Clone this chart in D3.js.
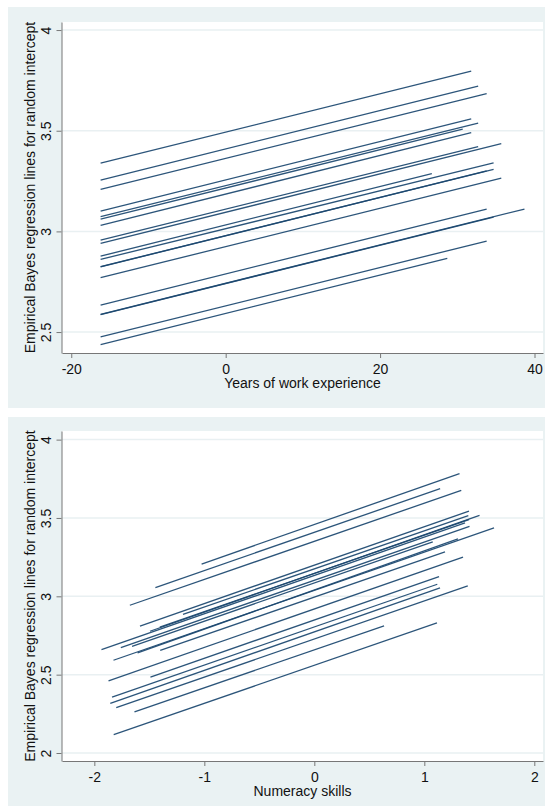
<!DOCTYPE html>
<html>
<head>
<meta charset="utf-8">
<script src="https://d3js.org/d3.v7.min.js"></script>
<style>
  body { margin: 0; background: #fff; }
  text { font-family: "Liberation Sans", Arial, sans-serif; fill: #111; }
</style>
</head>
<body>
<div id="chart"></div>
<script>
// ---- top panel: years of work experience ----
var expXTicks = [-20, 0, 20, 40];
var expYTicks = [2.5, 3, 3.5, 4];
var expStartX = [-16.2, -16.2, -16.2, -16.2, -16.2, -16.2, -16.2, -16.2, -16.2, -16.2,
                 -16.2, -16.2, -16.2, -16.2, -16.2, -16.2, -16.2, -16.2, -16.2];
var expEndX   = [31.8, 32.7, 33.8, 31.8, 32.7, 30.7, 31.8, 35.7, 32.7, 34.7,
                 34.7, 33.8, 26.7, 35.7, 33.8, 38.7, 34.7, 33.8, 28.7];
var expStartY = [3.339, 3.255, 3.209, 3.101, 3.073, 3.061, 3.030, 2.940, 2.957, 2.861,
                 2.825, 2.824, 2.877, 2.770, 2.634, 2.588, 2.587, 2.476, 2.438];
var expEndY   = [3.796, 3.722, 3.684, 3.559, 3.538, 3.508, 3.490, 3.436, 3.421, 3.340,
                 3.308, 3.300, 3.287, 3.265, 3.111, 3.111, 3.071, 2.952, 2.866];

// ---- bottom panel: numeracy skills ----
var numXTicks = [-2, -1, 0, 1, 2];
var numYTicks = [2, 2.5, 3, 3.5, 4];
var numStartX = [-1.025, -1.445, -1.677, -1.585, -1.194, -1.405, -1.494, -1.935, -1.759, -1.657,
                 -1.826, -1.607, -1.401, -1.871, -1.490, -1.839, -1.855, -1.801, -1.635, -1.824];
var numEndX   = [1.320, 1.144, 1.336, 1.406, 1.400, 1.406, 1.502, 1.370, 1.411, 1.077,
                 1.634, 1.306, 1.188, 1.352, 1.134, 1.118, 1.143, 1.395, 0.634, 1.115];
var numStartY = [3.206, 3.056, 2.943, 2.810, 2.885, 2.804, 2.777, 2.660, 2.673, 2.681,
                 2.592, 2.639, 2.655, 2.461, 2.485, 2.357, 2.317, 2.290, 2.262, 2.117];
var numEndY   = [3.783, 3.687, 3.676, 3.544, 3.515, 3.489, 3.517, 3.468, 3.447, 3.348,
                 3.437, 3.367, 3.283, 3.250, 3.126, 3.077, 3.054, 3.066, 2.812, 2.830];

var yTitle = "Empirical Bayes regression lines for random intercept";

var svg = d3.select("#chart")
  .append("svg")
  .attr("width", 552)
  .attr("height", 810);

var lineColor = "#1a476f";
var bgColor = "#eaf2f3";

// plain hyphen minus like Stata, not the unicode minus d3 uses
var fmt = function(d) { return String(d); };

function drawPanel(p) {
  // graph region background
  svg.append("rect")
    .attr("x", p.bx).attr("y", p.by)
    .attr("width", p.bw).attr("height", p.bh)
    .attr("fill", bgColor);

  var x = d3.scaleLinear().domain(p.xDomain).range([p.left, p.right]);
  var y = d3.scaleLinear().domain(p.yDomain).range([p.bottom, p.top]);

  // plot region
  svg.append("rect")
    .attr("x", p.left).attr("y", p.top)
    .attr("width", p.right - p.left).attr("height", p.bottom - p.top)
    .attr("fill", "#fff");

  // gridlines
  svg.append("g")
    .selectAll("line")
    .data(p.yTicks)
    .enter()
    .append("line")
    .attr("x1", p.left).attr("x2", p.right)
    .attr("y1", function(d) { return y(d); })
    .attr("y2", function(d) { return y(d); })
    .attr("stroke", "#e9f0f2")
    .attr("stroke-width", 1.5);

  // regression lines
  var rows = p.x0.map(function(v, i) {
    return { x0: v, x1: p.x1[i], y0: p.y0[i], y1: p.y1[i] };
  });
  svg.append("g")
    .selectAll("line")
    .data(rows)
    .enter()
    .append("line")
    .attr("x1", function(d) { return x(d.x0); })
    .attr("x2", function(d) { return x(d.x1); })
    .attr("y1", function(d) { return y(d.y0); })
    .attr("y2", function(d) { return y(d.y1); })
    .attr("stroke", lineColor)
    .attr("stroke-width", 1.3)
    .attr("stroke-opacity", 0.92);

  // x axis
  var gx = svg.append("g")
    .attr("transform", "translate(0," + p.bottom + ")")
    .call(d3.axisBottom(x).tickValues(p.xTicks).tickSize(5).tickSizeOuter(0)
      .tickFormat(fmt));
  gx.select(".domain").attr("stroke", "#777");
  gx.selectAll(".tick line").attr("stroke", "#777");
  gx.selectAll(".tick text")
    .attr("font-size", 14)
    .attr("font-family", "Liberation Sans, Arial, sans-serif")
    .attr("fill", "#111")
    .attr("dy", null)
    .attr("y", 20.5);

  // y axis
  var gy = svg.append("g")
    .attr("transform", "translate(" + (p.left - 0.5) + ",0)")
    .call(d3.axisLeft(y).tickValues(p.yTicks).tickSize(5).tickSizeOuter(0)
      .tickFormat(fmt));
  gy.select(".domain").attr("stroke", "#777");
  gy.selectAll(".tick line").attr("stroke", "#777");
  gy.selectAll(".tick text")
    .attr("font-size", 14)
    .attr("font-family", "Liberation Sans, Arial, sans-serif")
    .attr("fill", "#111")
    .attr("x", null).attr("dy", null)
    .attr("text-anchor", "middle")
    .attr("transform", "translate(-10.5,0) rotate(-90)");

  // axis titles
  svg.append("text")
    .attr("x", (p.left + p.right) / 2)
    .attr("y", p.bottom + 35)
    .attr("text-anchor", "middle")
    .attr("font-size", 14)
    .text(p.xTitle);

  svg.append("text")
    .attr("transform", "translate(35," + ((p.top + p.bottom) / 2) + ") rotate(-90)")
    .attr("text-anchor", "middle")
    .attr("font-size", 14)
    .text(yTitle);
}

drawPanel({
  bx: 8, by: 7, bw: 537, bh: 401,
  left: 62, right: 543, top: 22, bottom: 353,
  xDomain: [-21.2, 41.1], yDomain: [2.396, 4.04],
  xTicks: expXTicks, yTicks: expYTicks,
  x0: expStartX, x1: expEndX, y0: expStartY, y1: expEndY,
  xTitle: "Years of work experience"
});

drawPanel({
  bx: 8, by: 417, bw: 537, bh: 389,
  left: 62, right: 543, top: 431, bottom: 761,
  xDomain: [-2.294, 2.079], yDomain: [1.949, 4.055],
  xTicks: numXTicks, yTicks: numYTicks,
  x0: numStartX, x1: numEndX, y0: numStartY, y1: numEndY,
  xTitle: "Numeracy skills"
});
</script>
</body>
</html>
